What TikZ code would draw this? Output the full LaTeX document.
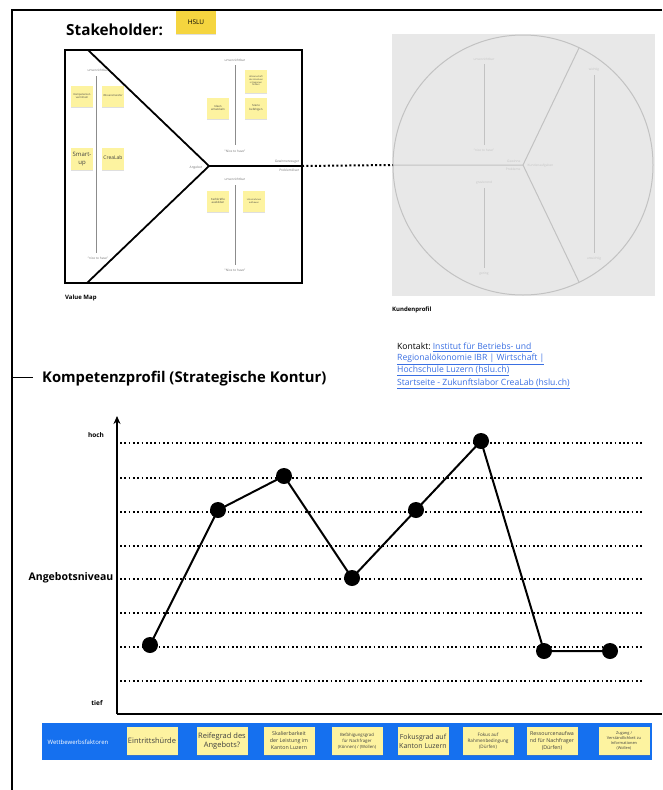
\documentclass[tikz,border=0pt]{standalone}
\usepackage{fontspec}
\setmainfont{Open Sans}
\usetikzlibrary{shadows,arrows.meta}
\definecolor{stickyY}{HTML}{FDF3A0}
\definecolor{hsluY}{HTML}{F5D53F}
\definecolor{barBlue}{HTML}{1570EF}
\definecolor{kpBg}{HTML}{E8E8E8}
\definecolor{kpLine}{HTML}{C2C2C2}
\definecolor{kpText}{HTML}{C4C4C4}
\definecolor{linkBlue}{HTML}{3A6FE2}
\tikzset{
  stick/.style={fill=stickyY, inner sep=0.5pt, align=center, text=black!75,
    drop shadow={opacity=0.25, shadow xshift=0pt, shadow yshift=-1.2pt}},
  vmtxt/.style={font=\fontsize{3.2}{3.8}\selectfont, text=black!55, inner sep=0.5pt, align=center},
  kptxt/.style={font=\fontsize{3.2}{3.8}\selectfont, text=kpText, inner sep=0.5pt},
  dotline/.style={line width=1.7pt, dash pattern=on 1.7pt off 2.6pt},
  dotconn/.style={line width=2pt, dash pattern=on 2pt off 2.3pt},
  pt/.style={circle, fill=black, minimum size=16pt, inner sep=0pt},
  barstick/.style={fill=stickyY, minimum width=51pt, minimum height=28pt, inner sep=0.5pt, align=center, text=black!75,
    drop shadow={opacity=0.3, shadow xshift=0pt, shadow yshift=-1.2pt}},
  link/.style={text=linkBlue, font=\fontsize{8.6}{10}\selectfont, anchor=west, inner sep=0pt}
}
\begin{document}
\begin{tikzpicture}[x=1pt,y=-1pt]
\useasboundingbox (0,0) rectangle (662,790);
% outer frame
\coordinate (frTL) at (12,10);
\coordinate (frTR) at (662,10);
\coordinate (frBL) at (12,790);
\draw[line width=1.3pt] (frTR) -- (frTL) -- (frBL);
\coordinate (tickA) at (12,377);
\coordinate (tickB) at (33,377);
\draw[line width=0.6pt] (tickA) -- (tickB);

% titles
\node[anchor=west, font=\bfseries\fontsize{15.3}{18}\selectfont, inner sep=0pt] (stake) at (66,30) {Stakeholder:};
\node[fill=hsluY, minimum width=40pt, minimum height=23pt, inner sep=0pt,
  font=\fontsize{6.5}{8}\selectfont, drop shadow={opacity=0.25, shadow xshift=0pt, shadow yshift=-1.2pt}] (hslu) at (196,22) {HSLU};

% Value map
\coordinate (vmTL) at (65,50);
\coordinate (vmBR) at (302,283);
\draw[line width=1.8pt] (vmTL) rectangle (vmBR);
\coordinate (apex) at (209,166);
\coordinate (dTop) at (88,50);
\coordinate (dBot) at (87,283);
\coordinate (vmR) at (302,166);
\draw[line width=1.8pt] (dTop) -- (apex) -- (dBot);
\draw[line width=1.8pt] (apex) -- (vmR);
\node[vmtxt, anchor=east] (angebot) at (203,168) {Angebot};
\node[vmtxt, anchor=south east] (gewinn) at (300,164) {Gewinnerzeuger};
\node[vmtxt, anchor=north east] (problem) at (300,168) {Problemlöser};

% left column
\node[vmtxt] (lTop) at (98,70) {unverzichtbar};
\node[vmtxt] (lBot) at (98,258) {"nice to have"};
\draw[black!45, line width=0.6pt] (96,76) -- (96,253);
\node[stick, minimum width=22pt, minimum height=21pt, font=\fontsize{2.6}{3}\selectfont] (s1) at (82,96) {Kompetenzen\\vermitteln};
\node[stick, minimum width=22pt, minimum height=21pt, font=\fontsize{2.6}{3}\selectfont] (s2) at (113,96) {Wissenstransfer};
\node[stick, minimum width=22pt, minimum height=22pt, font=\fontsize{6}{7.5}\selectfont] (s3) at (82,159) {Smart-\\up};
\node[stick, minimum width=22pt, minimum height=22pt, font=\fontsize{5}{6}\selectfont, anchor=center] (s4) at (113,159) {\raisebox{3pt}{CreaLab}};

% upper right section
\node[vmtxt] (uTop) at (235,60) {unverzichtbar};
\node[vmtxt] (uBot) at (235,151) {"Nice to have"};
\draw[black!45, line width=0.6pt] (235,65) -- (235,145);
\node[stick, minimum width=22pt, minimum height=21pt, font=\fontsize{2.8}{3.4}\selectfont] (s5) at (218,108) {Ideen\\entwickeln};
\node[stick, minimum width=22pt, minimum height=23pt, font=\fontsize{2.2}{2.7}\selectfont] (s6) at (256,81) {Wissenschaft\\des Kreativen\\in Regionen\\fördern};
\node[stick, minimum width=22pt, minimum height=21pt, font=\fontsize{2.8}{3.4}\selectfont] (s7) at (256,108) {Szene\\befähigen};

% lower right section
\node[vmtxt] (dTopT) at (235,179) {unverzichtbar};
\node[vmtxt] (dBotT) at (235,270) {"Nice to have"};
\draw[black!45, line width=0.6pt] (235,185) -- (235,265);
\node[stick, minimum width=22pt, minimum height=21pt, font=\fontsize{2.8}{3.4}\selectfont] (s8) at (218,201) {Fachkräfte\\ausbilden};
\node[stick, minimum width=22pt, minimum height=21pt, font=\fontsize{2.2}{2.7}\selectfont] (s9) at (254,201) {Unternehmen\\aufbauen};

\node[anchor=west, font=\bfseries\fontsize{6}{7}\selectfont, inner sep=0pt] (vmLabel) at (65,298) {Value Map};

% Kundenprofil
\coordinate (kpTL) at (392,34);
\coordinate (kpBR) at (655,296);
\fill[kpBg] (kpTL) rectangle (kpBR);
\coordinate (kpC) at (523,165);
\draw[kpLine, line width=1pt] (kpC) circle[radius=130];
\coordinate (kpL) at (393,165);
\coordinate (kpUR) at (579,48);
\coordinate (kpLR) at (579,282);
\draw[kpLine, line width=1pt] (kpL) -- (kpC) -- (kpUR);
\draw[kpLine, line width=1pt] (kpC) -- (kpLR);
\node[kptxt] (k1) at (484,59) {unverzichtbar};
\draw[kpLine, line width=0.5pt] (484,64) -- (484,145);
\node[kptxt] (k2) at (484,150) {"nice to have"};
\node[kptxt] (k3) at (484,183) {gravierend};
\draw[kpLine, line width=0.5pt] (484,188) -- (484,268);
\node[kptxt] (k4) at (484,274) {gering};
\node[kptxt] (k5) at (594,70) {wichtig};
\draw[kpLine, line width=0.5pt] (594,75) -- (594,253);
\node[kptxt] (k6) at (594,259) {unwichtig};
\node[kptxt, anchor=south east] (k7) at (521,163) {Gewinne};
\node[kptxt, anchor=north east] (k8) at (521,167) {Probleme};
\node[kptxt, anchor=west] (k9) at (527,166) {Kundenaufgaben};
\node[anchor=west, font=\bfseries\fontsize{6}{7}\selectfont, inner sep=0pt] (kpLabel) at (392,310) {Kundenprofil};

% connector value map -> Kundenprofil
\draw[dotconn] (vmR) -- (kpL);

% contact
\node[anchor=west, font=\fontsize{8.6}{10}\selectfont, inner sep=0pt] (kontakt) at (397,347) {Kontakt:\ \textcolor{linkBlue}{\underline{Institut für Betriebs- und}}};
\node[link] (l2) at (397,359) {\underline{Regionalökonomie IBR | Wirtschaft |}};
\node[link] (l3) at (397,371) {\underline{Hochschule Luzern (hslu.ch)}};
\node[link] (l4) at (397,384) {\underline{Startseite - Zukunftslabor CreaLab (hslu.ch)}};

% Kompetenzprofil
\node[anchor=west, font=\bfseries\fontsize{14.8}{17}\selectfont, inner sep=0pt] (komp) at (42,379) {Kompetenzprofil (Strategische Kontur)};

% chart axes
\coordinate (ax0) at (117,714);
\coordinate (axTop) at (117,416);
\coordinate (axRight) at (662,714);
\draw[line width=1.8pt, -{Stealth[length=8pt,width=7pt]}] (ax0) -- (axTop);
\draw[line width=1.8pt] (ax0) -- (axRight);
\node[font=\bfseries\fontsize{6.5}{8}\selectfont] (hoch) at (96,435) {hoch};
\node[font=\bfseries\fontsize{6.5}{8}\selectfont] (tief) at (97,703) {tief};
\node[font=\bfseries\fontsize{10.5}{12}\selectfont] (niveau) at (71,578) {Angebotsniveau};

% dotted grid
\foreach \yy in {443,478,512,546,579,613,647,681}{
  \draw[dotline] (120,\yy) -- (642,\yy);
}

% points
\node[pt] (p1) at (150,645) {};
\node[pt] (p2) at (218,510) {};
\node[pt] (p3) at (284,476) {};
\node[pt] (p4) at (352,578) {};
\node[pt] (p5) at (416,510) {};
\node[pt] (p6) at (481,441) {};
\node[pt] (p7) at (544,651) {};
\node[pt] (p8) at (610,651) {};
\draw[line width=2pt, line join=round] (p1.center) -- (p2.center) -- (p3.center) -- (p4.center) -- (p5.center) -- (p6.center) -- (p7.center) -- (p8.center);

% factor bar
\coordinate (barTL) at (42,723);
\coordinate (barBR) at (652,760);
\fill[barBlue] (barTL) rectangle (barBR);
\node[text=white, font=\fontsize{6}{7}\selectfont] (wf) at (78,742) {Wettbewerbsfaktoren};
\node[barstick, font=\fontsize{7.5}{9}\selectfont] (f1) at (152,741) {Eintrittshürde};
\node[barstick, font=\fontsize{7.5}{9.5}\selectfont] (f2) at (222,741) {Reifegrad des\\Angebots?};
\node[barstick, font=\fontsize{5.3}{7}\selectfont] (f3) at (289,741) {Skalierbarkeit\\der Leistung im\\Kanton Luzern};
\node[barstick, font=\fontsize{4.3}{6}\selectfont] (f4) at (357,741) {Befähigungsgrad\\für Nachfrager\\(Können) / (Wollen)};
\node[barstick, font=\fontsize{7}{9}\selectfont] (f5) at (423,741) {Fokusgrad auf\\Kanton Luzern};
\node[barstick, font=\fontsize{4.6}{6}\selectfont] (f6) at (488,741) {Fokus auf\\Rahmenbedingung\\(Dürfen)};
\node[barstick, font=\fontsize{5.3}{7}\selectfont] (f7) at (552,741) {Ressourcenaufwa\\nd für Nachfrager\\(Dürfen)};
\node[barstick, font=\fontsize{3.9}{5}\selectfont] (f8) at (624,741) {Zugang /\\Verständlichkeit zu\\Informationen\\(Wollen)};
\end{tikzpicture}
\end{document}
